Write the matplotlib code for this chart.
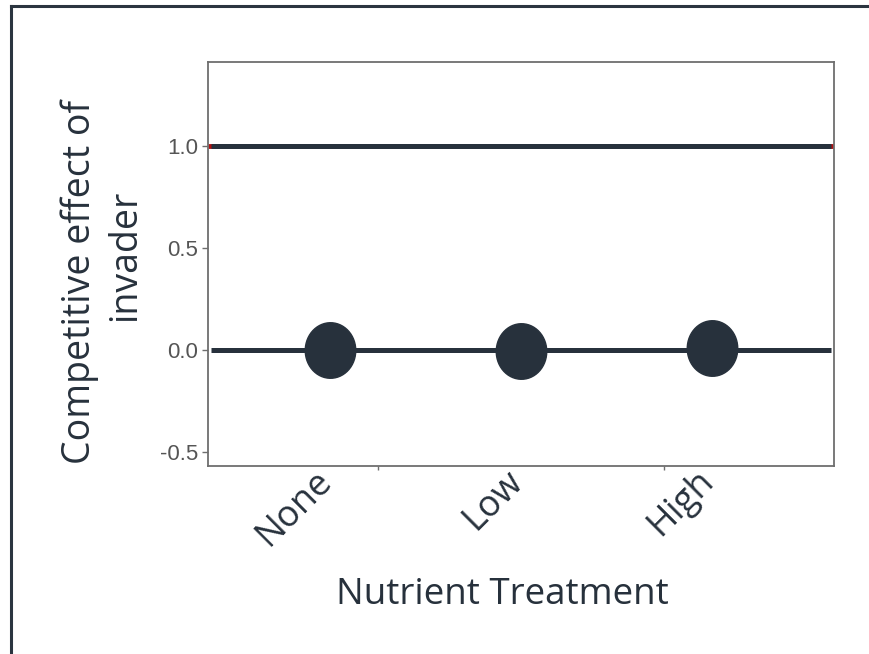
import matplotlib.pyplot as plt
from matplotlib.path import Path
from matplotlib.transforms import ScaledTranslation
import numpy as np

## Data
treatments = ["None", "Low", "High"]
effect = [0.0, -0.005, 0.008]
ref_lines = [1.0, 0.0]
y_ticks = [1.0, 0.5, 0.0, -0.5]
y_tick_labels = ["1.0", "0.5", "0.0", "-0.5"]

DARK = "#27313c"
GREY = "#6e6e6e"

fig = plt.figure(figsize=(8.7, 6.54), dpi=100)
ax = fig.add_axes([0.239, 0.2875, 0.72, 0.6175])

xs = np.arange(1, len(treatments) + 1)

# red line under the 1.0 reference, shows at the ends only
ax.plot([0.36, 3.64], [1.0, 1.0], color="#b01010", lw=3.5, zorder=1,
        solid_capstyle="butt")
for yv in ref_lines:
    ax.plot([0.375, 3.625], [yv, yv], color=DARK, lw=3.6, zorder=2,
            solid_capstyle="butt")

# slightly tall ellipse marker
t = np.linspace(0, 2 * np.pi, 60)
ell = Path(np.column_stack([np.cos(t) / 1.1, np.sin(t)]))
ax.plot(xs, effect, linestyle="none", marker=ell, ms=40,
        color=DARK, zorder=3)

ax.set_xlim(0.36, 3.64)
ax.set_ylim(-0.569, 1.41)

ax.set_yticks(y_ticks)
ax.set_yticklabels(y_tick_labels, family="Liberation Sans", fontsize=16,
                   color="#555555")
ax.tick_params(axis="y", length=4, width=1, color=GREY, pad=3)

ax.set_xticks(xs)
ax.set_xticklabels(treatments, family="Open Sans", fontsize=26,
                   color=DARK, rotation=45, ha="right",
                   rotation_mode="anchor")
ax.tick_params(axis="x", length=0, pad=0)
shift = ScaledTranslation(-0.16, 0.03, fig.dpi_scale_trans)
for lab in ax.get_xticklabels():
    lab.set_transform(lab.get_transform() + shift)
ax.set_xticks([1.25, 2.75], minor=True)
ax.tick_params(axis="x", which="minor", length=3, width=1, color=GREY)

for s in ax.spines.values():
    s.set_color(GREY)
    s.set_linewidth(1.3)

fig.text(0.578, 0.09, "Nutrient Treatment", family="Open Sans",
         fontsize=26.5, color=DARK, ha="center", va="center")
fig.text(0.092, 0.569, "Competitive effect of", family="Open Sans",
         fontsize=27, color=DARK, ha="center", va="center", rotation=90)
fig.text(0.144, 0.609, "invader", family="Open Sans",
         fontsize=27, color=DARK, ha="center", va="center", rotation=90)

# outer slide frame (left and top edges)
fig.add_artist(plt.Line2D([0.0125, 0.0125], [0.0, 0.991],
                          transform=fig.transFigure, color="#2b3540", lw=2.2))
fig.add_artist(plt.Line2D([0.0125, 1.0], [0.991, 0.991],
                          transform=fig.transFigure, color="#2b3540", lw=2.2))

fig.savefig("out.png", dpi=100)
